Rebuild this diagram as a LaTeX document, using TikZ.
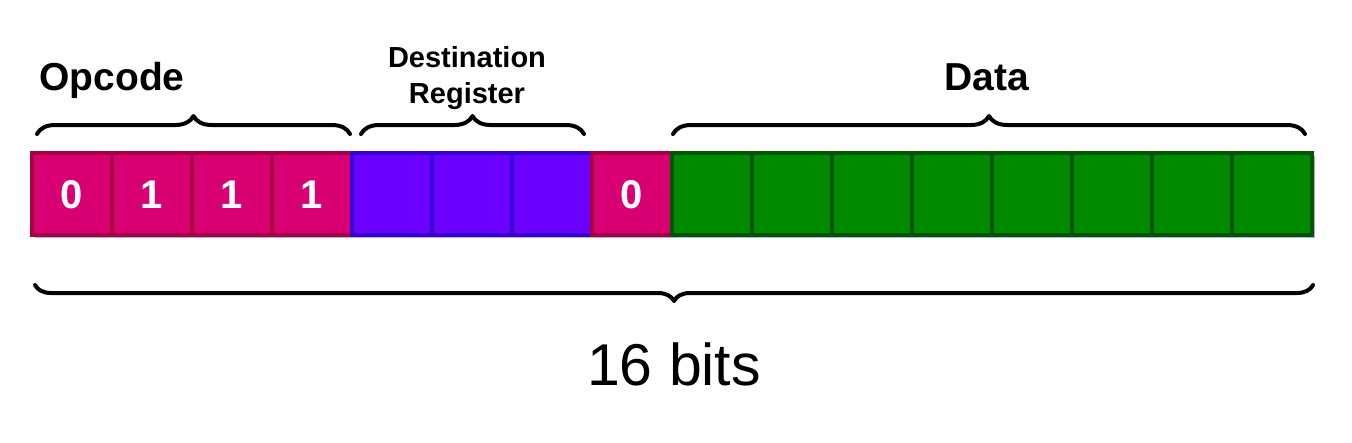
\documentclass[tikz,border=0pt]{standalone}
\usepackage{fontspec}
\setmainfont{Liberation Sans}
\usetikzlibrary{decorations.pathreplacing,shadows}
\definecolor{opfill}{HTML}{D80073}
\definecolor{opdraw}{HTML}{A50040}
\definecolor{regfill}{HTML}{6A00FF}
\definecolor{regdraw}{HTML}{3700CC}
\definecolor{datafill}{HTML}{008A00}
\definecolor{datadraw}{HTML}{005700}
\tikzset{
  cell/.style={rectangle, minimum width=80pt, minimum height=82pt, inner sep=0pt,
    line width=4pt,
    drop shadow={shadow xshift=3pt, shadow yshift=-3pt, opacity=0.3, fill=black!60!blue}},
  opcell/.style={cell, fill=opfill, draw=opdraw},
  regcell/.style={cell, fill=regfill, draw=regdraw},
  datacell/.style={cell, fill=datafill, draw=datadraw},
  digit/.style={text=white, font=\fontsize{40}{42}\selectfont\bfseries, anchor=base},
  bracket/.style={decorate, decoration={brace, amplitude=#1}, line width=4pt, line cap=round, line join=round},
  biglabel/.style={font=\fontsize{39}{42}\selectfont\bfseries, anchor=base},
}
\begin{document}
\begin{tikzpicture}[x=1pt,y=-1pt]
\useasboundingbox[fill=white] (0,0) rectangle (1352,442);
% cells
\node[opcell] (c1) at (72,194) {};
\node[opcell] (c2) at (152,194) {};
\node[opcell] (c3) at (232,194) {};
\node[opcell] (c4) at (312,194) {};
\node[regcell] (c5) at (392,194) {};
\node[regcell] (c6) at (472,194) {};
\node[regcell] (c7) at (552,194) {};
\node[opcell] (c8) at (632,194) {};
\node[datacell] (c9) at (712,194) {};
\node[datacell] (c10) at (792,194) {};
\node[datacell] (c11) at (872,194) {};
\node[datacell] (c12) at (952,194) {};
\node[datacell] (c13) at (1032,194) {};
\node[datacell] (c14) at (1112,194) {};
\node[datacell] (c15) at (1192,194) {};
\node[datacell] (c16) at (1272,194) {};
% digits
\node[digit] (d1) at (72,208) {0};
\node[digit] (d2) at (152,208) {1};
\node[digit] (d3) at (232,208) {1};
\node[digit] (d4) at (312,208) {1};
\node[digit] (d8) at (632,208) {0};
% braces
\coordinate (b1s) at (37,134);
\coordinate (b1e) at (350,134);
\coordinate (b2s) at (361,134);
\coordinate (b2e) at (584,134);
\coordinate (b3s) at (673,134);
\coordinate (b3e) at (1305,134);
\coordinate (b4s) at (1313,285);
\coordinate (b4e) at (35,285);
\draw[bracket=18pt] (b1s) -- (b1e);
\draw[bracket=18pt] (b2s) -- (b2e);
\draw[bracket=18pt] (b3s) -- (b3e);
\draw[bracket=16pt] (b4s) -- (b4e);
% labels
\node[biglabel] (opcode) at (112,90) {Opcode};
\node[font=\fontsize{29}{36}\selectfont\bfseries, align=center] (dest) at (467,78) {Destination\\Register};
\node[biglabel] (data) at (987,90) {Data};
\node[font=\fontsize{59}{62}\selectfont, anchor=base] (bits) at (674,385) {16 bits};
\end{tikzpicture}
\end{document}
